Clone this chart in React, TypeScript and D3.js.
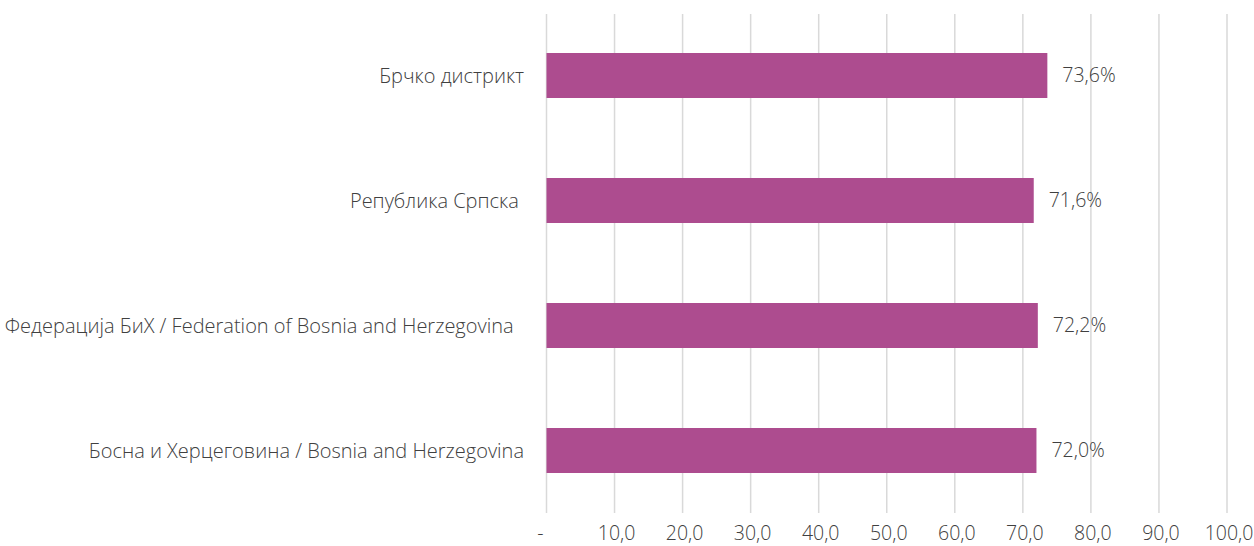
import React from "react";
import * as d3 from "d3";

const categories = [
  "Брчко дистрикт",
  "Република Српска ",
  "Федерација БиХ / Federation of Bosnia and Herzegovina  ",
  "Босна и Херцеговина / Bosnia and Herzegovina",
];
const values = [73.6, 71.6, 72.2, 72.0];
const ticks = [0, 10, 20, 30, 40, 50, 60, 70, 80, 90, 100];

const W = 1254;
const H = 546;
const FONT = "'Open Sans', 'Noto Sans', sans-serif";
const TEXT = "#404040";
const FS = 19.5;
const CAT_FS = 20;

export default function App() {
  const x = d3.scaleLinear().domain([0, 100]).range([546.5, 1227]);
  const y = d3
    .scaleBand<string>()
    .domain(categories)
    .range([13, 513])
    .paddingInner(0.64)
    .paddingOuter(0.32);
  const fmt = (v: number) => (v === 0 ? "-" : v.toFixed(1).replace(".", ","));
  return (
    <svg
      width={W}
      height={H}
      style={{ position: "absolute", left: 0, top: 0, background: "#fff" }}
      fontFamily={FONT}
    >
      {ticks.map((t) => (
        <line
          key={"g" + t}
          x1={x(t)}
          x2={x(t)}
          y1={14}
          y2={513}
          stroke="#D9D9D9"
          strokeWidth={1.5}
        />
      ))}
      {categories.map((c, i) => (
        <g key={c}>
          <rect
            x={x(0)}
            y={y(c)}
            width={x(values[i]) - x(0)}
            height={y.bandwidth()}
            fill="#AD4C8F"
          />
          <text
            x={x(values[i]) + 15}
            y={(y(c) as number) + y.bandwidth() / 2}
            dy="0.35em"
            fontSize={FS}
            fill={TEXT}
            fontWeight={300}
          >
            {values[i].toFixed(1).replace(".", ",") + "%"}
          </text>
          <text
            x={524}
            y={(y(c) as number) + y.bandwidth() / 2}
            dy="0.35em"
            textAnchor="end"
            fontSize={CAT_FS}
            fill={TEXT}
            fontWeight={300}
            style={{ whiteSpace: "pre" }}
          >
            {c}
          </text>
        </g>
      ))}
      {ticks.map((t) => (
        <text
          key={"t" + t}
          x={t === 0 ? x(t) - 6 : x(t) + 2}
          y={540}
          textAnchor="middle"
          fontSize={FS}
          fill={TEXT}
          fontWeight={300}
        >
          {fmt(t)}
        </text>
      ))}
    </svg>
  );
}
